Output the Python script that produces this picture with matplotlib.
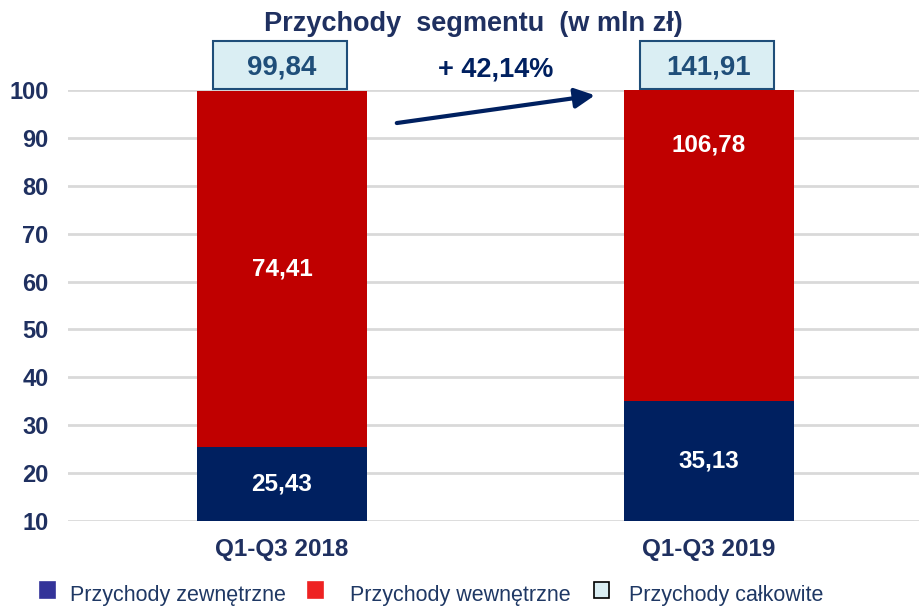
import matplotlib
matplotlib.use('Agg')
import matplotlib.pyplot as plt
from matplotlib.patches import Rectangle, FancyArrowPatch

#Data
categories = ['Q1-Q3 2018', 'Q1-Q3 2019']
external = [25.43, 35.13]
internal = [74.41, 106.78]
total = [99.84, 141.91]
total_labels = ['99,84', '141,91']
growth_label = '+ 42,14%'
yticks = [10, 20, 30, 40, 50, 60, 70, 80, 90, 100]

navy = '#002060'
red = '#C00000'
text_col = '#1F3060'
box_col = '#1F4E79'

plt.rcParams['font.family'] = ['Liberation Sans', 'DejaVu Sans']

fig = plt.figure(figsize=(9.19, 6.09), dpi=100)
ax = fig.add_axes([68/919, 1-521/609, 851/919, 431/609])
ax.set_xlim(-0.501, 1.492)
ax.set_ylim(10, 100)

x = list(range(len(categories)))
w = 0.40
ax.bar(x, external, width=w, color=navy, zorder=2)
ax.bar(x, internal, width=w, bottom=external, color=red, zorder=2)

#Value labels in the middle of the visible part of each segment
for i in x:
  ye = (10 + external[i]) / 2
  yi = external[i] + internal[i] / 2
  ax.text(i, ye, '{:.2f}'.format(external[i]).replace('.', ','), ha='center', va='center',
          color='white', fontsize=17.5, fontweight='bold', zorder=3)
  ax.text(i, yi, '{:.2f}'.format(internal[i]).replace('.', ','), ha='center', va='center',
          color='white', fontsize=17.5, fontweight='bold', zorder=3)
  #Total boxes above the bars
  bw = 0.313
  ax.add_patch(Rectangle((i - bw/2 - 0.005, 100.3), bw, 9.9, facecolor='#DAEEF3',
                         edgecolor=box_col, linewidth=1.5, clip_on=False, zorder=1))
  ax.text(i, 104.8, total_labels[i], ha='center', va='center', color=box_col,
          fontsize=20, fontweight='bold', clip_on=False)

ax.text(0.5, 104.3, growth_label, ha='center', va='center', color=navy,
        fontsize=19.5, fontweight='bold')
ax.add_patch(FancyArrowPatch((0.269, 93.1), (0.733, 98.9), arrowstyle='-|>,head_length=12,head_width=6',
                             mutation_scale=1, color=navy, linewidth=3, shrinkA=0, shrinkB=0,
                             clip_on=False, zorder=4))

ax.set_yticks(yticks)
ax.set_yticklabels([str(t) for t in yticks])
ax.set_xticks(x)
ax.set_xticklabels(categories)
ax.tick_params(axis='y', length=0, pad=14, labelsize=17, labelcolor=text_col)
ax.tick_params(axis='x', length=0, pad=12, labelsize=17.5, labelcolor=text_col)
for lab in ax.get_yticklabels() + ax.get_xticklabels():
  lab.set_fontweight('bold')
ax.grid(axis='y', color='#D9D9D9', linewidth=2.0, zorder=0)
ax.set_axisbelow(True)
for s in ax.spines.values():
  s.set_visible(False)

fig.text(473/919, 1-24/609, 'Przychody  segmentu  (w mln zł)', ha='center', va='center',
         color=text_col, fontsize=19.5, fontweight='bold')

#Legend drawn by hand along the bottom
legend_items = [('Przychody zewnętrzne', '#333399', '#333399', 40, 70),
                ('Przychody wewnętrzne', '#EE2222', '#EE2222', 308, 350),
                ('Przychody całkowite', '#DAEEF3', 'black', 594, 629)]
for label, fc, ec, mx, tx in legend_items:
  fig.patches.append(Rectangle((mx/919, 1-598/609), 15/919, 16/609, facecolor=fc, edgecolor=ec,
                               linewidth=1.2, transform=fig.transFigure, figure=fig))
  fig.text(tx/919, 1-596/609, label, ha='left', va='center', color='#1F3864', fontsize=15.5)

plt.savefig('out.png', dpi=100)
